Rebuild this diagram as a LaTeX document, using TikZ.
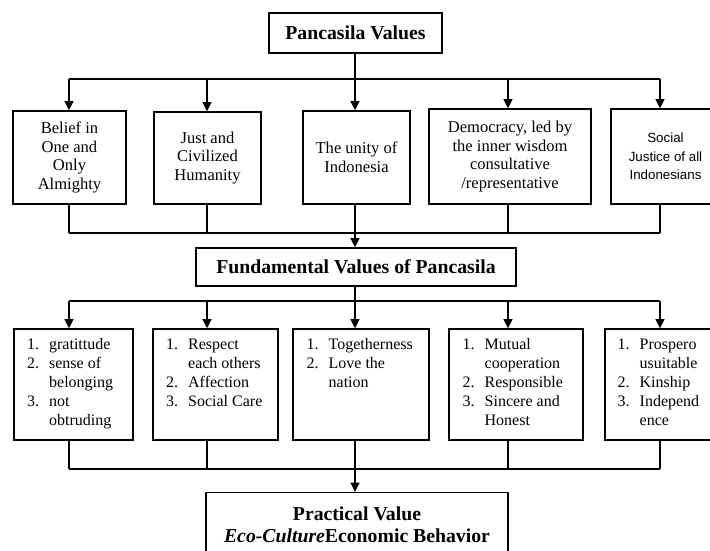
\documentclass[tikz,border=0pt]{standalone}
\usepackage{fontspec}
\setmainfont{Liberation Serif}
\newfontfamily\sansfont{Liberation Sans}
\usetikzlibrary{arrows.meta,positioning}

\tikzset{
    conn/.style={line width=1.6pt},
    arr/.style={conn, -{Triangle[length=7pt,width=6.5pt]}},
    box/.style 2 args={
        draw,
        line width=0.9pt,
        minimum width=#1*0.75pt,
        minimum height=#2*0.75pt,
        inner sep=0pt,
        align=center,
        font=\fontsize{12.4}{14}\selectfont
    },
    head/.style={font=\fontsize{14.8}{17}\selectfont\bfseries},
    items/.style={
        anchor=north west,
        inner sep=0pt,
        font=\fontsize{12}{14.25}\selectfont
    }
}
\newcommand{\valuelist}[1]{\begin{tabular}{@{}l@{\hspace{7.5pt}}l@{}}#1\end{tabular}}

\begin{document}
\begin{tikzpicture}[x=0.75pt, y=-0.75pt]
        \useasboundingbox (0,0) rectangle (710,550);
        \clip (0,0) rectangle (710,550);

        % top
        \node (pv) [box={173}{40}, head] at (355.5,33) {Pancasila Values};

        % the five principles
        \node (b1) [box={113}{93}] at (69.5,157.5)
            {Belief in\\One and\\Only\\Almighty};
        \node (b2) [box={107}{92}] at (207.5,158)
            {Just and\\Civilized\\Humanity};
        \node (b3) [box={107}{93}] at (356.5,157.5)
            {The unity of\\Indonesia};
        \node (b4) [box={162}{95}] at (510,156.5)
            {Democracy, led by\\the inner wisdom\\consultative\\/representative};
        \node (b5) [box={109}{95}, font=\sansfont\fontsize{10}{14}\selectfont] at (665.5,156.5)
            {Social\\Justice of all\\Indonesians};

        \node (fv) [box={320}{38}, head] at (356,267) {Fundamental Values of Pancasila};

        % the fundamental values
        \node (c1) [box={119}{111}] at (73.5,384.5) {};
        \node (c2) [box={125}{111}] at (215.5,384.5) {};
        \node (c3) [box={136}{111}] at (361,384.5) {};
        \node (c4) [box={134}{111}] at (516,384.5) {};
        \node (c5) [box={115}{111}] at (662.5,384.5) {};

        \node (l1) [items] at ([shift={(13.5,7.7)}]c1.north west)
            {\valuelist{1.& gratittude\\ 2.& sense of\\ & belonging\\ 3.& not\\ & obtruding}};
        \node (l2) [items] at ([shift={(13.5,7.7)}]c2.north west)
            {\valuelist{1.& Respect\\ & each others\\ 2.& Affection\\ 3.& Social Care}};
        \node (l3) [items] at ([shift={(14,7.7)}]c3.north west)
            {\valuelist{1.& Togetherness\\ 2.& Love the\\ & nation}};
        \node (l4) [items] at ([shift={(14,7.7)}]c4.north west)
            {\valuelist{1.& Mutual\\ & cooperation\\ 2.& Responsible\\ 3.& Sincere and\\ & Honest}};
        \node (l5) [items] at ([shift={(13,7.7)}]c5.north west)
            {\valuelist{1.& Prospero\\ & usuitable\\ 2.& Kinship\\ 3.& Independ\\ & ence}};

        \node (pr) [box={302}{20}, head, anchor=north, inner ysep=10.5pt] at (357,492)
            {Practical Value\\\textit{Eco-Culture}Economic Behavior};

        % bus points
        \coordinate (a1) at (69,79);
        \coordinate (a3) at (355,79);
        \coordinate (a5) at (660,79);
        \coordinate (m1) at (69,233);
        \coordinate (m3) at (355,233);
        \coordinate (m5) at (660,233);
        \coordinate (n1) at (69,301);
        \coordinate (n3) at (355,301);
        \coordinate (n5) at (660,301);
        \coordinate (p1) at (69,469);
        \coordinate (p3) at (355,469);
        \coordinate (p5) at (660,469);

        % top bus
        \draw[conn] (pv.south -| a3) -- (a3);
        \draw[conn] (a1) -- (a5);
        \draw[arr] (a1) -- (a1 |- b1.north);
        \draw[arr] (a1 -| 207,0) -- (207,0 |- b2.north);
        \draw[arr] (a3) -- (a3 |- b3.north);
        \draw[arr] (a1 -| 508,0) -- (508,0 |- b4.north);
        \draw[arr] (a5) -- (a5 |- b5.north);

        % middle bus
        \draw[conn] (m1 |- b1.south) -- (m1);
        \draw[conn] (207,0 |- b2.south) -- (m1 -| 207,0);
        \draw[conn] (m3 |- b3.south) -- (m3);
        \draw[conn] (508,0 |- b4.south) -- (m1 -| 508,0);
        \draw[conn] (m5 |- b5.south) -- (m5);
        \draw[conn] (m1) -- (m5);
        \draw[arr] (m3) -- (m3 |- fv.north);

        % lower bus
        \draw[conn] (fv.south -| n3) -- (n3);
        \draw[conn] (n1) -- (n5);
        \draw[arr] (n1) -- (n1 |- c1.north);
        \draw[arr] (n1 -| 207,0) -- (207,0 |- c2.north);
        \draw[arr] (n3) -- (n3 |- c3.north);
        \draw[arr] (n1 -| 508,0) -- (508,0 |- c4.north);
        \draw[arr] (n5) -- (n5 |- c5.north);

        % bottom bus
        \draw[conn] (p1 |- c1.south) -- (p1);
        \draw[conn] (207,0 |- c2.south) -- (p1 -| 207,0);
        \draw[conn] (p3 |- c3.south) -- (p3);
        \draw[conn] (508,0 |- c4.south) -- (p1 -| 508,0);
        \draw[conn] (p5 |- c5.south) -- (p5);
        \draw[conn] (p1) -- (p5);
        \draw[arr] (p3) -- (pr.north -| p3);
    \end{tikzpicture}
\end{document}
